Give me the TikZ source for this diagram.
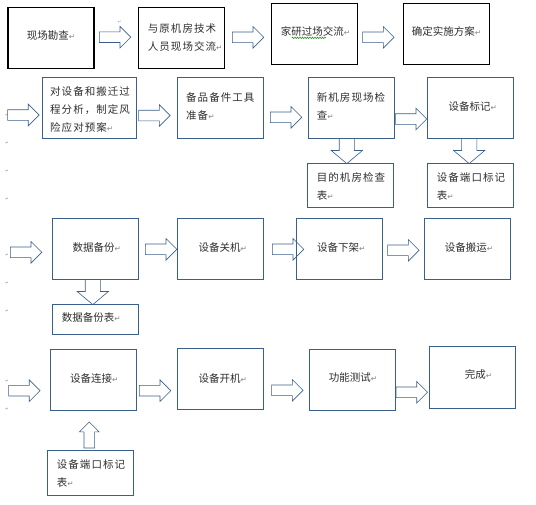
\documentclass[tikz,border=0pt]{standalone}
\usepackage{fontspec}
\usetikzlibrary{shapes.arrows,decorations.pathmorphing}
\newfontfamily\cjk{Noto Sans CJK SC}
\newfontfamily\cjkwide[LetterSpace=10]{Noto Sans CJK SC}
\newfontfamily\markfont{DejaVu Sans}
\definecolor{lineblue}{HTML}{3A5F8B}
\definecolor{inkgray}{HTML}{2E2E2E}
\newcommand{\pmk}{{\markfont\fontsize{7.5}{7.5}\selectfont\textcolor{gray}{↵}}}

\begin{document}
\begin{tikzpicture}[x=1pt,y=-1pt,
  box/.style={draw=lineblue,line width=0.8pt,inner sep=0pt,outer sep=0pt,anchor=north west,minimum width=86pt,minimum height=61pt},
  topbox/.style={box,draw=black,line width=1.1pt},
  txt/.style={anchor=west,inner sep=0pt,text=inkgray,font=\cjk\fontsize{10.5}{18}\selectfont,align=left},
  wtxt/.style={txt,font=\cjkwide\fontsize{10.5}{18}\selectfont},
  arr/.style={single arrow,draw=lineblue,fill=white,line width=0.6pt,inner xsep=0pt,inner ysep=5pt,single arrow head extend=5.5pt,minimum height=31.5pt,anchor=tail},
  darr/.style={arr,inner ysep=7.3pt,single arrow head extend=8pt,single arrow tip angle=100,minimum height=25pt,rotate=-90},
  uarr/.style={arr,single arrow head extend=4.5pt,minimum height=26pt,rotate=90},
  pmark/.style={inner sep=0pt,text=gray,font=\markfont\fontsize{4}{4}\selectfont}
]
\useasboundingbox (0,0) rectangle (536,504);

% block arrows
\node[arr] (a1) at (99,37.2) {};
\node[arr] (a2) at (232,37.3) {};
\node[arr] (a3) at (362.3,37.3) {};
\node[arr] (b0) at (7.3,115) {};
\node[arr] (b1) at (138.3,115.5) {};
\node[arr] (b2) at (270,117.3) {};
\node[arr] (b3) at (395,119) {};
\node[darr] (bchk) at (346.8,138.3) {};
\node[darr] (bmark) at (469.2,138.3) {};
\node[arr] (c0) at (10,252.3) {};
\node[arr] (c1) at (145,249.3) {};
\node[arr] (c2) at (272,249.3) {};
\node[arr] (c3) at (387.3,250.3) {};
\node[darr] (cbak) at (92.8,279.3) {};
\node[arr] (d0) at (8.3,390.7) {};
\node[arr] (d1) at (139,390.7) {};
\node[arr] (d2) at (271.3,390.3) {};
\node[arr] (d3) at (395.7,392.3) {};
\node[uarr] (dport) at (89.3,448.3) {};

% boxes
\node[topbox] (survey) at (8,7.3) {};
\node[topbox] (talk) at (138.3,7.3) {};
\node[topbox] (vendor) at (271.3,3.3) {};
\node[topbox] (plan) at (403.3,3.3) {};
\node[box,minimum width=94pt] (risk) at (42.7,77.3) {};
\node[box] (spare) at (177.3,77.3) {};
\node[box] (newroom) at (308.3,77.3) {};
\node[box] (label) at (427.3,77.3) {};
\node[box,minimum height=44pt] (chklist) at (307.3,163.3) {};
\node[box,minimum height=44pt] (portlist) at (427.3,163.3) {};
\node[box] (backup) at (52.3,218.3) {};
\node[box] (shutdown) at (177.3,218.3) {};
\node[box] (unrack) at (296.3,218.3) {};
\node[box] (move) at (424.3,218.3) {};
\node[box,minimum height=30pt] (baklist) at (52.3,304.3) {};
\node[box] (connect) at (50.3,349.3) {};
\node[box] (poweron) at (177.3,348.3) {};
\node[box] (test) at (309.3,349.3) {};
\node[box,minimum height=62pt] (done) at (429.3,346.3) {};
\node[box,minimum height=45pt] (portlist2) at (47.3,450) {};

% texts
\node[txt] (tsurvey) at (26.7,36) {现场勘查\pmk};
\node[wtxt] (ttalk) at (147.7,37.2) {与原机房技术\\人员现场交流\pmk};
\node[txt] (tvendor) at (280.7,31.7) {家研过场交流\pmk};
\node[txt] (tplan) at (411.7,31.7) {确定实施方案\pmk};
\node[wtxt] (trisk) at (50,110) {对设备和搬迁过\\程分析，制定风\\险应对预案\pmk};
\node[wtxt] (tspare) at (186,106.7) {备品备件工具\\准备\pmk};
\node[wtxt] (tnewroom) at (316.7,106.7) {新机房现场检\\查\pmk};
\node[txt] (tlabel) at (448.3,106.7) {设备标记\pmk};
\node[wtxt] (tchklist) at (316.7,186) {目的机房检查\\表\pmk};
\node[wtxt] (tportlist) at (436.7,186) {设备端口标记\\表\pmk};
\node[txt] (tbackup) at (72.3,247.3) {数据备份\pmk};
\node[txt] (tshutdown) at (198.3,247.3) {设备关机\pmk};
\node[txt] (tunrack) at (317,247.3) {设备下架\pmk};
\node[txt] (tmove) at (444.7,247.3) {设备搬运\pmk};
\node[txt] (tbaklist) at (61.7,317.3) {数据备份表\pmk};
\node[txt] (tconnect) at (70,378.3) {设备连接\pmk};
\node[txt] (tpoweron) at (198.3,378.3) {设备开机\pmk};
\node[txt] (ttest) at (328.7,377.3) {功能测试\pmk};
\node[txt] (tdone) at (464.7,374) {完成\pmk};
\node[wtxt] (tportlist2) at (56.7,473.8) {设备端口标记\\表\pmk};

% spell-check underline
\draw[green!55!black,line width=0.5pt,decorate,decoration={snake,amplitude=0.7pt,segment length=2.5pt}] (291.7,37.8) -- (326,37.8);

% empty paragraph marks
\node[pmark] (pm0) at (119.5,22.7) {↵};
\foreach \y [count=\i] in {115,143,171,199,255.7,283.3,311,381.7,409.3}
  \node[pmark] (pm\i) at (7,\y) {↵};
\end{tikzpicture}
\end{document}
